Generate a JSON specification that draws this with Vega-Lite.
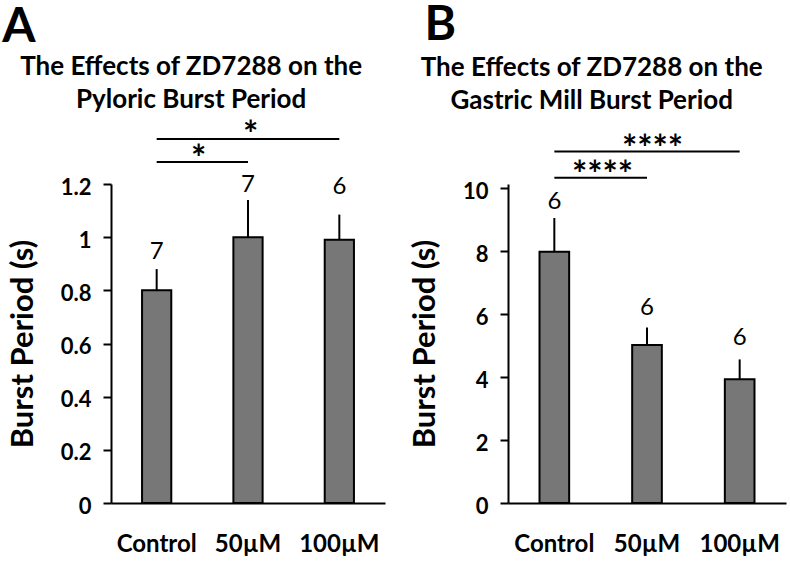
{
  "$schema": "https://vega.github.io/schema/vega-lite/v6.json",
  "padding": {"left": 2, "top": 1, "right": 2, "bottom": 2},
  "background": "white",
  "config": {
    "font": "Lato",
    "view": {"stroke": null},
    "axis": {
      "domainColor": "black", "domainWidth": 2,
      "tickColor": "black", "tickWidth": 2,
      "labelColor": "black", "labelFontWeight": "bold", "labelFontSize": 22, "labelFont": "Lato",
      "titleColor": "black", "titleFontWeight": "bold", "titleFontSize": 30, "titleFont": "Lato",
      "grid": false
    },
    "title": {"color": "black", "fontWeight": "bold", "font": "Lato"},
    "concat": {"spacing": 24}
  },
  "datasets": {
    "pyloric": [
      {"condition": "Control", "mean": 0.80, "upper": 0.88, "n": "7", "labelPos": 0.944},
      {"condition": "50µM", "mean": 1.00, "upper": 1.14, "n": "7", "labelPos": 1.196},
      {"condition": "100µM", "mean": 0.99, "upper": 1.085, "n": "6", "labelPos": 1.189}
    ],
    "pyloricSig": [
      {"from": "Control", "to": "50µM", "y": 1.283, "mid": 0.96, "starY": 1.29, "stars": "*"},
      {"from": "Control", "to": "100µM", "y": 1.369, "mid": 1.53, "starY": 1.38, "stars": "*"}
    ],
    "gastric": [
      {"condition": "Control", "mean": 7.98, "upper": 9.05, "n": "6", "labelPos": 9.56},
      {"condition": "50µM", "mean": 5.02, "upper": 5.57, "n": "6", "labelPos": 6.19},
      {"condition": "100µM", "mean": 3.93, "upper": 4.56, "n": "6", "labelPos": 5.24}
    ],
    "gastricSig": [
      {"from": "Control", "to": "50µM", "y": 10.33, "mid": 1.02, "starY": 10.39, "stars": "****"},
      {"from": "Control", "to": "100µM", "y": 11.16, "mid": 1.56, "starY": 11.22, "stars": "****"}
    ]
  },
  "hconcat": [
    {
      "title": {"text": "A", "anchor": "start", "fontSize": 48, "fontWeight": "bold", "offset": 2, "dx": -5},
      "vconcat": [
        {
          "title": {"text": ["The Effects of ZD7288 on the", "Pyloric Burst Period"], "fontSize": 26, "lineHeight": 33, "anchor": "middle", "frame": "bounds", "offset": 5, "dx": -5},
          "width": 274,
          "height": 319,
          "resolve": {"scale": {"x": "independent"}},
          "layer": [
            {
              "layer": [
                {
                  "data": {"name": "pyloric"},
                  "mark": {"type": "bar", "fill": "#777777", "stroke": "black", "strokeWidth": 2},
                  "encoding": {
                    "x": {"field": "condition", "type": "nominal", "sort": null,
                      "scale": {"domain": ["Control", "50µM", "100µM"], "paddingInner": 0.68, "paddingOuter": 0.34},
                      "axis": {"title": null, "labelAngle": 0, "ticks": false, "labelPadding": 29, "labelFontSize": 24}},
                    "y": {"field": "mean", "type": "quantitative",
                      "scale": {"domain": [0, 1.2], "nice": false},
                      "axis": {"title": "Burst Period  (s)", "titlePadding": 21, "titleFontSize": 31,
                        "values": [0, 0.1, 0.2, 0.3, 0.4, 0.5, 0.6, 0.7, 0.8, 0.9, 1, 1.1, 1.2],
                        "labelExpr": "abs(datum.value*5 - round(datum.value*5)) < 0.001 ? format(datum.value, '~r') : ''",
                        "tickSize": {"condition": {"test": "abs(datum.value*5 - round(datum.value*5)) < 0.001", "value": 8}, "value": 5},
                        "labelPadding": 12, "labelOffset": 3}}
                  }
                },
                {
                  "data": {"name": "pyloric"},
                  "mark": {"type": "rule", "color": "black", "strokeWidth": 2},
                  "encoding": {
                    "x": {"field": "condition", "type": "nominal", "sort": null},
                    "y": {"field": "mean", "type": "quantitative"},
                    "y2": {"field": "upper"}
                  }
                },
                {
                  "data": {"name": "pyloric"},
                  "mark": {"type": "text", "color": "black", "fontSize": 24, "baseline": "middle", "font": "Lato"},
                  "encoding": {
                    "x": {"field": "condition", "type": "nominal", "sort": null},
                    "y": {"field": "labelPos", "type": "quantitative"},
                    "text": {"field": "n"}
                  }
                },
                {
                  "data": {"name": "pyloricSig"},
                  "mark": {"type": "rule", "color": "black", "strokeWidth": 2},
                  "encoding": {
                    "x": {"field": "from", "type": "nominal", "sort": null},
                    "x2": {"field": "to"},
                    "y": {"field": "y", "type": "quantitative"}
                  }
                }
              ]
            },
            {
              "data": {"name": "pyloricSig"},
              "mark": {"type": "text", "color": "black", "fontSize": 36, "fontWeight": "bold", "baseline": "middle", "font": "Lato"},
              "encoding": {
                "x": {"field": "mid", "type": "quantitative", "scale": {"domain": [0, 3], "nice": false, "zero": false}, "axis": null},
                "y": {"field": "starY", "type": "quantitative"},
                "text": {"field": "stars"}
              }
            }
          ]
        }
      ]
    },
    {
      "title": {"text": "B", "anchor": "start", "fontSize": 48, "fontWeight": "bold", "offset": 5, "dx": 15},
      "vconcat": [
        {
          "title": {"text": ["The Effects of ZD7288 on the", "Gastric Mill Burst Period"], "fontSize": 26, "lineHeight": 33, "anchor": "middle", "frame": "bounds", "offset": 18, "dx": -6},
          "width": 278,
          "height": 319,
          "resolve": {"scale": {"x": "independent"}},
          "layer": [
            {
              "layer": [
                {
                  "data": {"name": "gastric"},
                  "mark": {"type": "bar", "fill": "#777777", "stroke": "black", "strokeWidth": 2},
                  "encoding": {
                    "x": {"field": "condition", "type": "nominal", "sort": null,
                      "scale": {"domain": ["Control", "50µM", "100µM"], "paddingInner": 0.68, "paddingOuter": 0.34},
                      "axis": {"title": null, "labelAngle": 0, "ticks": false, "labelPadding": 29, "labelFontSize": 24}},
                    "y": {"field": "mean", "type": "quantitative",
                      "scale": {"domain": [0, 10.13], "nice": false},
                      "axis": {"title": "Burst Period  (s)", "titlePadding": 21, "titleFontSize": 31,
                        "values": [0, 0.5, 1, 1.5, 2, 2.5, 3, 3.5, 4, 4.5, 5, 5.5, 6, 6.5, 7, 7.5, 8, 8.5, 9, 9.5, 10],
                        "labelExpr": "abs(datum.value/2 - round(datum.value/2)) < 0.001 ? format(datum.value, '~r') : ''",
                        "tickSize": {"condition": {"test": "abs(datum.value/2 - round(datum.value/2)) < 0.001", "value": 8}, "value": 5},
                        "labelPadding": 12, "labelOffset": 3}}
                  }
                },
                {
                  "data": {"name": "gastric"},
                  "mark": {"type": "rule", "color": "black", "strokeWidth": 2},
                  "encoding": {
                    "x": {"field": "condition", "type": "nominal", "sort": null},
                    "y": {"field": "mean", "type": "quantitative"},
                    "y2": {"field": "upper"}
                  }
                },
                {
                  "data": {"name": "gastric"},
                  "mark": {"type": "text", "color": "black", "fontSize": 24, "baseline": "middle", "font": "Lato"},
                  "encoding": {
                    "x": {"field": "condition", "type": "nominal", "sort": null},
                    "y": {"field": "labelPos", "type": "quantitative"},
                    "text": {"field": "n"}
                  }
                },
                {
                  "data": {"name": "gastricSig"},
                  "mark": {"type": "rule", "color": "black", "strokeWidth": 2},
                  "encoding": {
                    "x": {"field": "from", "type": "nominal", "sort": null},
                    "x2": {"field": "to"},
                    "y": {"field": "y", "type": "quantitative"}
                  }
                }
              ]
            },
            {
              "data": {"name": "gastricSig"},
              "mark": {"type": "text", "color": "black", "fontSize": 36, "fontWeight": "bold", "baseline": "middle", "font": "Lato"},
              "encoding": {
                "x": {"field": "mid", "type": "quantitative", "scale": {"domain": [0, 3], "nice": false, "zero": false}, "axis": null},
                "y": {"field": "starY", "type": "quantitative"},
                "text": {"field": "stars"}
              }
            }
          ]
        }
      ]
    }
  ]
}
